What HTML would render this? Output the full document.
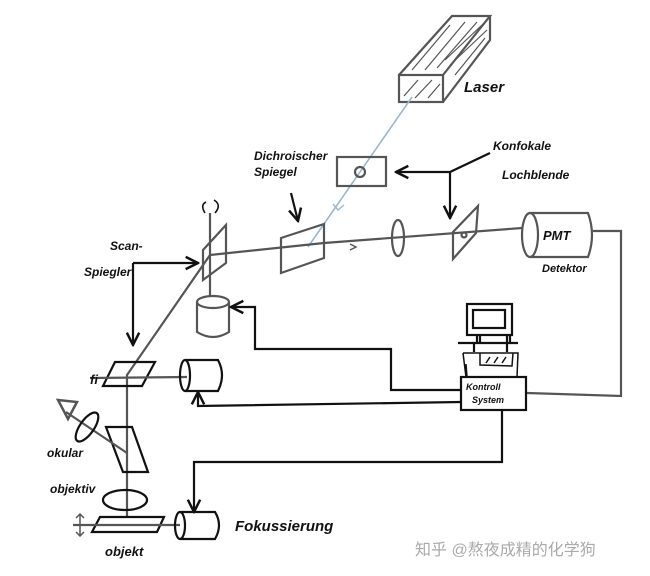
<!DOCTYPE html>
<html><head><style>
body{margin:0;background:#fff;}
svg{display:block}
text{font-family:"Liberation Sans","Noto Sans CJK SC",sans-serif;fill:#111;font-style:italic;font-weight:bold}
</style></head><body>
<svg width="650" height="576" viewBox="0 0 650 576" xmlns="http://www.w3.org/2000/svg">
<defs>
<marker id="a" viewBox="0 0 10 10" refX="9" refY="5" markerWidth="7" markerHeight="7" orient="auto"><path d="M1 1L9 5L1 9" fill="none" stroke="#111" stroke-width="1.6"/></marker>
</defs>
<g fill="none" stroke="#555" stroke-width="2.2">
<rect x="399" y="75" width="44" height="27"/>
<path d="M399 75L452 16L490 16L443 75M490 16L490 40L443 102"/>
<g stroke-width="1.2"><path d="M412 70L450 25M425 70L465 22M437 68L477 22M445 60L483 24M450 65L487 30M404 96L418 80M415 98L432 80M428 98L440 84M455 75L485 38"/></g>
<path d="M412 97L308 247" stroke="#9bb6cf" stroke-width="1.6"/>
<path d="M333 204L338 210L344 205" stroke="#9bb6cf" stroke-width="1.4"/>
<rect x="337" y="157" width="49" height="29"/>
<circle cx="360" cy="172" r="5"/>
<path d="M281 238L324 224L324 258L281 273Z"/>
<path d="M210 255L324 243L522 228"/>
<path d="M350 244L356 247L350 250" stroke-width="1.4"/>
<ellipse cx="398" cy="238" rx="6" ry="18"/>
<path d="M453 232L478 206L476 233L453 259Z"/>
<circle cx="464" cy="235" r="2.5"/>
<path d="M530 213L588 213Q596 235 588 257L530 257"/>
<ellipse cx="530" cy="235" rx="8" ry="22"/>
<path d="M593 231L621 231L621 396L527 393"/>
<path d="M203 250L226 225L226 263L203 280Z"/>
<path d="M210 213L210 297"/>
<path d="M197 302L197 332Q213 342 229 332L229 302"/>
<ellipse cx="213" cy="302" rx="16" ry="6"/>
<path d="M210 255L127 375L127 517"/>
<path d="M115 362L155 362L142 386L103 386Z" stroke="#111"/>
<path d="M90 378L187 377"/>
<path d="M185 360L218 360Q226 375 218 391L185 391" stroke="#111"/>
<ellipse cx="185" cy="375.5" rx="5" ry="15.5" stroke="#111"/>
<path d="M106 427L132 427L148 472L123 472Z" stroke="#111"/>
<path d="M127 453L66 412"/>
<ellipse cx="87" cy="427" rx="17" ry="7" transform="rotate(-55 87 427)" stroke="#111"/>
<path d="M58 400L77 402L68 419Z" stroke-width="2.5"/>
<ellipse cx="125" cy="500" rx="22" ry="10" stroke="#111"/>
<path d="M100 517L164 517L157 532L92 532Z" stroke="#111"/>
<path d="M73 525L180 525"/>
<path d="M80 514L80 536M76 518L80 514L84 518M76 532L80 536L84 532" stroke-width="1.5"/>
<path d="M180 512L215 512Q223 525 215 539L180 539" stroke="#111"/>
<ellipse cx="180" cy="525.5" rx="5" ry="13.5" stroke="#111"/>
</g>
<g fill="none" stroke="#111" stroke-width="2.2">
<path d="M450 172L396 172" marker-end="url(#a)"/>
<path d="M450 172L490 153"/>
<path d="M450 172L450 218" marker-end="url(#a)"/>
<path d="M291 193L298 221" marker-end="url(#a)"/>
<path d="M133 263L198 263" marker-end="url(#a)"/>
<path d="M133 263L133 345" marker-end="url(#a)"/>
<path d="M205 213Q200 205 206 202M215 213Q222 205 214 200" stroke-width="1.6"/>
<rect x="467" y="304" width="45" height="31"/>
<rect x="473" y="310" width="32" height="18"/>
<path d="M477 335L477 343M480 335L480 343M507 335L507 343M510 335L510 343M458 343L518 343M474 343L474 352M507 343L507 352"/>
<path d="M463 353L518 353L517 377M466 377L463 353M480 353L480 365L512 366L513 353M466 364L467 377M486 363L490 357M494 363L498 357M502 363L506 357" stroke-width="1.5"/>
<rect x="461" y="377" width="65" height="33"/>
<path d="M461 390L391 390L391 349L255 349L255 307L231 307" marker-end="url(#a)"/>
<path d="M461 402L198 406L198 392" marker-end="url(#a)"/>
<path d="M502 410L502 462L194 462L194 512" marker-end="url(#a)"/>
</g>
<text x="464" y="92" font-size="15">Laser</text>
<text x="254" y="160" font-size="12">Dichroischer</text>
<text x="254" y="176" font-size="12">Spiegel</text>
<text x="493" y="150" font-size="12">Konfokale</text>
<text x="502" y="179" font-size="12">Lochblende</text>
<text x="543" y="240" font-size="13">PMT</text>
<text x="542" y="272" font-size="11">Detektor</text>
<text x="110" y="250" font-size="12">Scan-</text>
<text x="84" y="276" font-size="12">Spiegler</text>
<text x="90" y="384" font-size="13">fi</text>
<text x="466" y="390" font-size="9">Kontroll</text>
<text x="472" y="403" font-size="9">System</text>
<text x="47" y="457" font-size="12">okular</text>
<text x="50" y="493" font-size="12">objektiv</text>
<text x="235" y="531" font-size="15">Fokussierung</text>
<text x="105" y="556" font-size="13">objekt</text>
<text x="415" y="555" font-size="16" style="font-style:normal;font-weight:normal;fill:#aaa">知乎 @熬夜成精的化学狗</text>
</svg>
</body></html>
